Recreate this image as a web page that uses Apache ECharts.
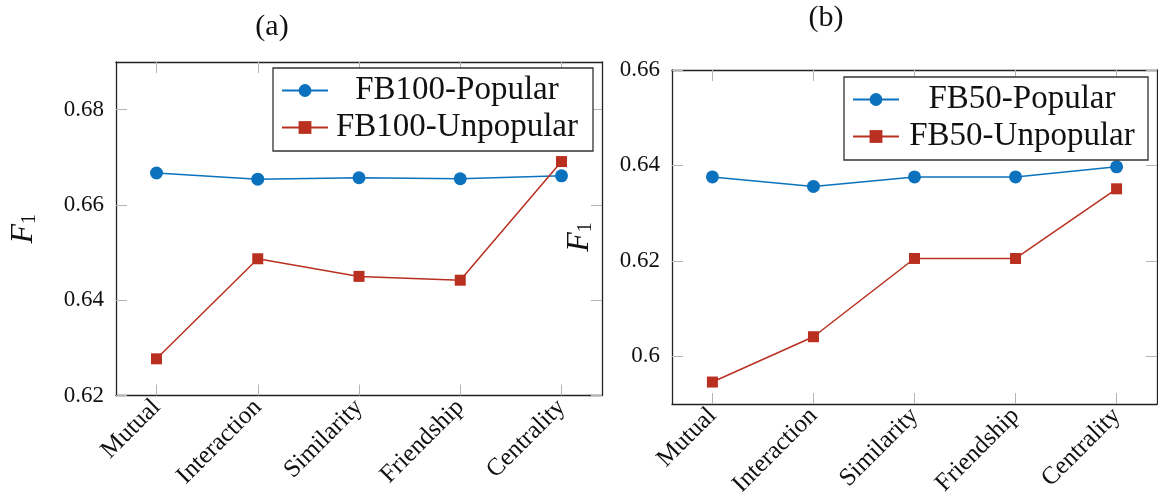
<!DOCTYPE html>
<html>
<head>
<meta charset="utf-8">
<script src="https://cdn.jsdelivr.net/npm/echarts@6/dist/echarts.min.js"></script>
<style>
html,body{margin:0;padding:0;background:#fff;}
#c{width:1158px;height:492px;}
</style>
</head>
<body>
<div id="c"></div>
<script>
const categories = ['Mutual', 'Interaction', 'Similarity', 'Friendship', 'Centrality'];
const fb100Popular   = [0.6667, 0.6654, 0.6657, 0.6655, 0.6661];
const fb100Unpopular = [0.6277, 0.6487, 0.6450, 0.6442, 0.6691];
const fb50Popular    = [0.6376, 0.6356, 0.6376, 0.6376, 0.6397];
const fb50Unpopular  = [0.5946, 0.6041, 0.6205, 0.6205, 0.6351];
const yTicksA = [0.62, 0.64, 0.66, 0.68];
const yTicksB = [0.6, 0.62, 0.64, 0.66];
const panelTitles = ['(a)', '(b)'];
const seriesNamesA = ['FB100-Popular', 'FB100-Unpopular'];
const seriesNamesB = ['FB50-Popular', 'FB50-Unpopular'];

const FONT = '"Liberation Serif", "DejaVu Serif", serif';
const BLUE = '#0c72bd';
const RED = '#b93020';
const xIdx = categories.map((c, i) => i);
const pts = arr => arr.map((v, i) => [i, v]);

function xAxes(gridIndex) {
  return [
    {
      type: 'value', gridIndex, position: 'bottom', min: -0.4, max: 4.4,
      splitLine: {show: false},
      axisLine: {show: true, onZero: false, lineStyle: {color: '#222', width: 1.3}},
      axisTick: {show: true, inside: true, length: 11, customValues: xIdx, lineStyle: {color: '#b5b5b5', width: 1}},
      axisLabel: {
        show: true, customValues: xIdx, rotate: 45, margin: 8,
        fontFamily: FONT, fontSize: 25, color: '#111',
        formatter: v => categories[Math.round(v)] || ''
      }
    },
    {
      type: 'value', gridIndex, position: 'top', min: -0.4, max: 4.4,
      splitLine: {show: false},
      axisLine: {show: true, onZero: false, lineStyle: {color: '#222', width: 1.3}},
      axisTick: {show: true, inside: true, length: 11, customValues: xIdx, lineStyle: {color: '#b5b5b5', width: 1}},
      axisLabel: {show: false}
    }
  ];
}

function yAxes(gridIndex, min, max, ticks) {
  return [
    {
      type: 'value', gridIndex, position: 'left', min, max,
      splitLine: {show: false},
      axisLine: {show: true, onZero: false, lineStyle: {color: '#222', width: 1.3}},
      axisTick: {show: true, inside: true, length: 11, customValues: ticks, lineStyle: {color: '#b5b5b5', width: 1}},
      axisLabel: {
        show: true, customValues: ticks, margin: 12,
        fontFamily: FONT, fontSize: 23, color: '#111',
        formatter: v => String(parseFloat(v.toFixed(2)))
      },
      name: '{f|F}{s|1}', nameLocation: 'middle', nameGap: 76, nameRotate: 90,
      nameTextStyle: {
        rich: {
          f: {fontFamily: FONT, fontStyle: 'italic', fontSize: 32, color: '#111', lineHeight: 36, verticalAlign: 'bottom'},
          s: {fontFamily: FONT, fontSize: 20, color: '#111', lineHeight: 20, verticalAlign: 'bottom'}
        }
      }
    },
    {
      type: 'value', gridIndex, position: 'right', min, max,
      splitLine: {show: false},
      axisLine: {show: true, onZero: false, lineStyle: {color: '#222', width: 1.3}},
      axisTick: {show: true, inside: true, length: 11, customValues: ticks, lineStyle: {color: '#b5b5b5', width: 1}},
      axisLabel: {show: false}
    }
  ];
}

function lineSeries(name, data, xAxisIndex, yAxisIndex, color, symbol, size) {
  return {
    name, type: 'line', xAxisIndex, yAxisIndex, data: pts(data),
    symbol, symbolSize: size, showAllSymbol: true,
    lineStyle: {color, width: 1.5},
    itemStyle: {color, borderWidth: 0},
    emphasis: {disabled: true},
    animation: false
  };
}

function legendCfg(names, left, top, textWidth, padRight) {
  return {
    data: names, orient: 'vertical', left, top,
    itemWidth: 46, itemHeight: 16, itemGap: 4,
    backgroundColor: '#fff', borderColor: '#333', borderWidth: 1.3,
    padding: [6, padRight, 7, 8],
    selectedMode: false,
    formatter: n => '{t|' + n + '}',
    textStyle: {
      fontFamily: FONT,
      rich: {t: {width: textWidth, align: 'center', fontFamily: FONT, fontSize: 33, color: '#111', lineHeight: 34}}
    }
  };
}

const chart = echarts.init(document.getElementById('c'), null, {renderer: 'canvas'});
chart.setOption({
  backgroundColor: '#fff',
  animation: false,
  grid: [
    {left: 116, top: 62, width: 486, height: 333.5, containLabel: false, outerBoundsMode: 'none'},
    {left: 672, top: 70, width: 485, height: 334, containLabel: false, outerBoundsMode: 'none'}
  ],
  xAxis: [...xAxes(0), ...xAxes(1)],
  yAxis: [...yAxes(0, 0.62, 0.69, yTicksA), ...yAxes(1, 0.59, 0.66, yTicksB)],
  legend: [
    legendCfg(seriesNamesA, 273, 68, 248, 12),
    legendCfg(seriesNamesB, 844, 77, 236, 8)
  ],
  graphic: [
    {type: 'text', x: 272, y: 27, style: {text: panelTitles[0], x: 0, y: 0, align: 'center', verticalAlign: 'middle', font: '30px "Liberation Serif"', fill: '#111'}},
    {type: 'text', x: 826, y: 18, style: {text: panelTitles[1], x: 0, y: 0, align: 'center', verticalAlign: 'middle', font: '30px "Liberation Serif"', fill: '#111'}}
  ],
  series: [
    lineSeries(seriesNamesA[0], fb100Popular, 0, 0, BLUE, 'circle', 13),
    lineSeries(seriesNamesA[1], fb100Unpopular, 0, 0, RED, 'rect', 11),
    lineSeries(seriesNamesB[0], fb50Popular, 2, 2, BLUE, 'circle', 13),
    lineSeries(seriesNamesB[1], fb50Unpopular, 2, 2, RED, 'rect', 11)
  ]
});
</script>
</body>
</html>
